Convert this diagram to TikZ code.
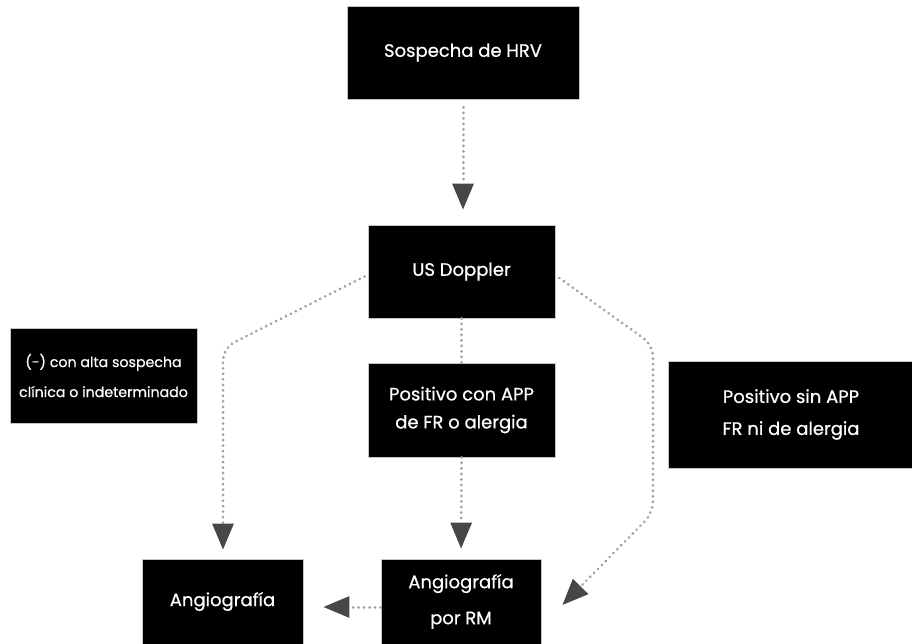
\documentclass[tikz,border=0pt]{standalone}
\usepackage{fontspec}
\setmainfont{Poppins}[FakeBold=0.6]
\usetikzlibrary{arrows.meta}
\begin{document}
\begin{tikzpicture}[x=1pt,y=-1pt,
  box/.style={fill=black, draw=gray!45, line width=0.8pt, text=white, align=center,
    inner sep=0pt, font=\fontsize{18}{30}\selectfont},
  smallbox/.style={box, font=\fontsize{14.2}{30}\selectfont},
  conn/.style={draw=gray!75, line width=3pt, line cap=round, dash pattern=on 0.01pt off 5.5pt},
  tip/.style={-{Triangle[length=26pt,width=21pt,color=black!72,fill=black!72]}}]
\useasboundingbox (0,0) rectangle (912,644);
\fill[white] (0,0) rectangle (912,644);

\node[box, minimum width=232pt, minimum height=93pt] (n1) at (463,52.5) {Sospecha de HRV};
\node[box, minimum width=187pt, minimum height=93pt] (n2) at (461.5,271.5) {US Doppler};
\node[smallbox, minimum width=187pt, minimum height=95pt] (n3) at (103.5,375.5) {(-) con alta sospecha\\clínica o indeterminado};
\node[box, minimum width=187pt, minimum height=94pt, font=\fontsize{18}{28}\selectfont] (n4) at (461.5,410) {Positivo con APP\\de FR o alergia};
\node[box, minimum width=246pt, minimum height=107pt, font=\fontsize{18}{32}\selectfont] (n5) at (791,414.5) {Positivo sin APP\\FR ni de alergia};
\node[box, minimum width=161pt, minimum height=85pt] (n6) at (222.5,601.5) {\raisebox{-5pt}{Angiografía}};
\node[box, minimum width=160pt, minimum height=85pt, font=\fontsize{18}{36}\selectfont] (n7) at (461,601.5) {Angiografía\\por RM};

\coordinate (cl) at (223,348);
\coordinate (cr) at (653,345);
\coordinate (cr2) at (653,513);
\coordinate (rtip) at ([xshift=21pt,yshift=-3.5pt]n7.east);

\draw[conn, tip, shorten <=8pt, shorten >=15pt] (n1.south) -- (n1.south |- n2.north);
\draw[conn] (n2.south) -- (n4.north);
\draw[conn, tip, shorten >=10pt] (n4.south) -- (n7.north);
\draw[conn, tip, rounded corners=12pt, shorten >=9pt] ([xshift=-3pt,yshift=-5pt]n2.west) -- (cl) -- (cl |- n6.north);
\draw[conn, tip, rounded corners=12pt] ([xshift=4pt,yshift=-6.5pt]n2.east) -- (cr) -- (cr2) -- (rtip);
\draw[conn, tip, shorten >=20pt] ([yshift=-5.5pt]n7.west) -- ([yshift=-5.5pt]n6.east);
\end{tikzpicture}
\end{document}
